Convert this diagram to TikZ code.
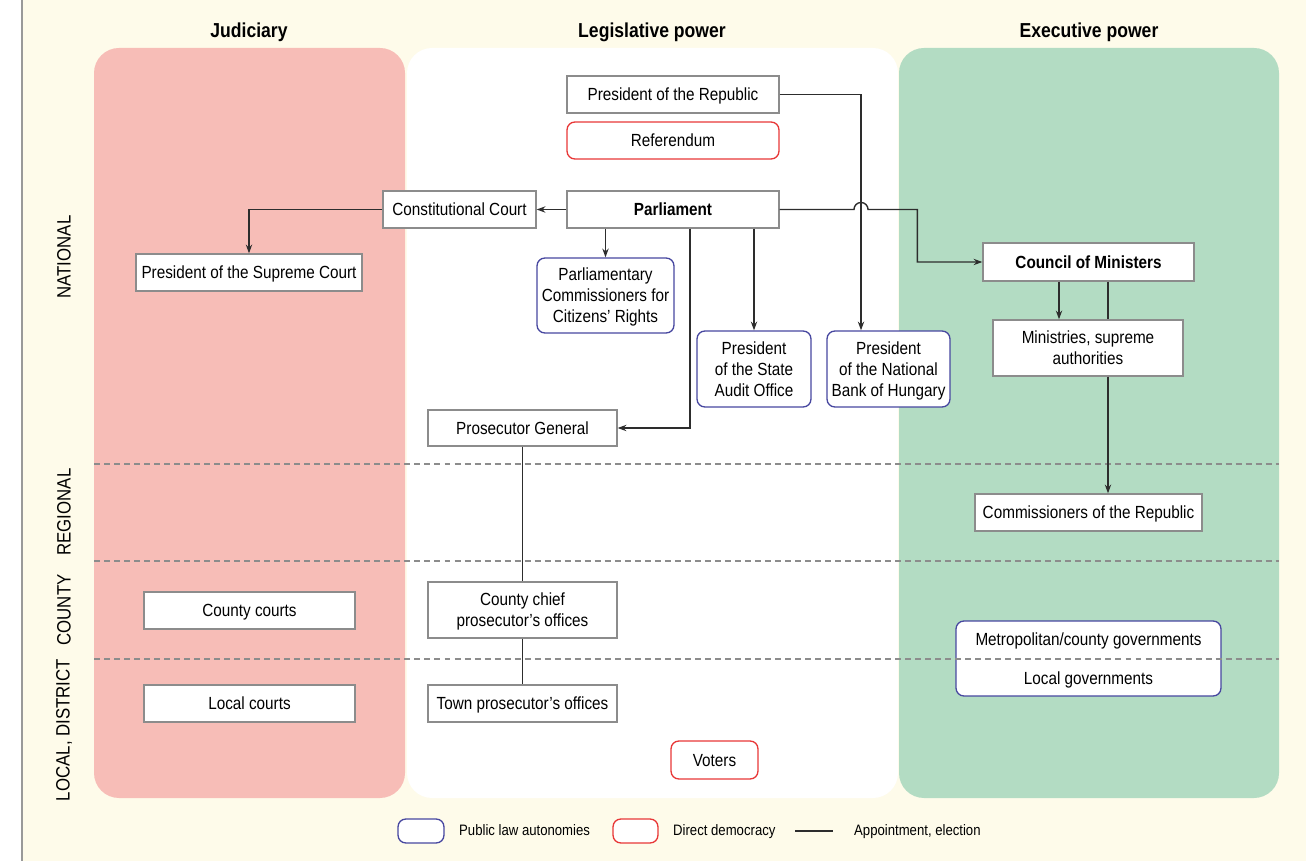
\documentclass[tikz,border=0pt]{standalone}
\usepackage{fontspec}
\setmainfont{Liberation Sans}[FakeStretch=0.87]
\usetikzlibrary{arrows.meta}

\definecolor{cream}{RGB}{254,251,234}
\definecolor{judpink}{RGB}{247,189,183}
\definecolor{exegreen}{RGB}{179,220,195}
\definecolor{boxgray}{RGB}{140,140,140}
\definecolor{autoblue}{RGB}{72,72,160}
\definecolor{demred}{RGB}{232,56,56}
\definecolor{linkgray}{RGB}{45,45,45}

\tikzset{
  office/.style={draw=boxgray, fill=white, line width=0.75pt, align=center, inner sep=1pt,
    minimum height=0.74cm, text depth=0pt, font=\fontsize{10}{12}\selectfont},
  autonomy/.style={office, draw=autoblue, rounded corners=4.5pt},
  direct/.style={office, draw=demred, rounded corners=4.5pt},
  link/.style={draw=linkgray, line width=0.8pt},
  appoint/.style={link, -{Stealth[length=5pt,width=3.6pt]}},
  level/.style={rotate=90, font=\fontsize{11}{13}\selectfont},
  branch/.style={font=\bfseries\fontsize{11.5}{14}\selectfont},
  tier/.style={draw=boxgray, line width=0.7pt, dash pattern=on 3.4pt off 2.3pt},
  keytext/.style={anchor=base west, font=\fontsize{8.6}{10}\selectfont}
}

\begin{document}
\begin{tikzpicture}[x=0.02cm, y=-0.02cm]
\useasboundingbox (0,0) rectangle (1306,861);
% background
\fill[cream] (23,0) rectangle (1306,861);
\draw[gray!80, line width=1pt] (22,0) -- (22,861);
% branches
\fill[judpink, rounded corners=0.5cm] (94,48) rectangle (405,798);
\fill[white, rounded corners=0.5cm] (407,48) rectangle (898,798);
\fill[exegreen, rounded corners=0.5cm] (899,48) rectangle (1279,798);
\node[branch] (judiciary) at (249,32) {Judiciary};
\node[branch] (legislative) at (652,32) {Legislative power};
\node[branch] (executive) at (1089,32) {Executive power};
% levels
\node[level] (national) at (64,257) {NATIONAL};
\node[level] (regional) at (64,512) {REGIONAL};
\node[level] (county) at (64,610) {COUNTY};
\node[level] (local) at (64,730) {LOCAL, DISTRICT};
% legislative
\node[office, minimum width=4.24cm] (presrep) at (673,94.5) {President of the Republic};
\node[direct, minimum width=4.24cm] (referendum) at (673,140.5) {Referendum};
\node[office, minimum width=4.24cm, font=\bfseries\fontsize{10}{12}\selectfont] (parliament) at (673,209.5) {Parliament};
\node[office, minimum width=3.06cm] (constcourt) at (459.5,209.5) {Constitutional Court};
\node[autonomy, minimum width=2.74cm, minimum height=1.5cm] (ombudsman) at (605.5,295.5) {Parliamentary\\Commissioners for\\Citizens' Rights};
\node[autonomy, minimum width=2.28cm, minimum height=1.52cm] (audit) at (754,369) {President\\of the State\\Audit Office};
\node[autonomy, minimum width=2.46cm, minimum height=1.52cm] (natbank) at (888.5,369) {President\\of the National\\Bank of Hungary};
\node[office, minimum width=3.78cm, minimum height=0.72cm] (prosgen) at (522.5,428) {Prosecutor General};
\node[office, minimum width=3.78cm, minimum height=1.12cm] (countypros) at (522.5,610) {County chief\\prosecutor’s offices};
\node[office, minimum width=3.78cm] (townpros) at (522.5,703.5) {Town prosecutor’s offices};
\node[direct, minimum width=1.74cm, minimum height=0.76cm] (voters) at (714.5,760) {Voters};
% judiciary
\node[office, minimum width=4.52cm] (supreme) at (249,272.5) {President of the Supreme Court};
\node[office, minimum width=4.22cm] (countycourts) at (249.5,610.5) {County courts};
\node[office, minimum width=4.22cm] (localcourts) at (249.5,703.5) {Local courts};
% executive
\node[office, minimum width=4.22cm, minimum height=0.76cm, font=\bfseries\fontsize{10}{12}\selectfont] (council) at (1088.5,262) {Council of Ministers};
\node[office, minimum width=3.8cm, minimum height=1.12cm] (ministries) at (1088,348) {Ministries, supreme\\authorities};
\node[office, minimum width=4.54cm] (commrep) at (1088.5,512.5) {Commissioners of the Republic};
\node[autonomy, minimum width=5.3cm, minimum height=1.5cm] (localgov) at (1088.5,658.5) {Metropolitan/county governments\\[10pt]Local governments};
% level borders
\draw[tier] (94,464) -- (1279,464);
\draw[tier] (94,561) -- (1279,561);
\draw[tier] (94,659) -- (1279,659);
% appointments
\draw[appoint] (parliament.west) -- (constcourt.east);
\draw[appoint] (constcourt.west) -| (supreme.north);
\draw[appoint] (parliament.south -| ombudsman.north) -- (ombudsman.north);
\draw[appoint] (parliament.south -| audit.north) -- (audit.north);
\draw[appoint] ([xshift=0.34cm]parliament.south) |- (prosgen.east);
\draw[appoint] (presrep.east) -| ([xshift=-0.55cm]natbank.north);
\draw[appoint] (parliament.east) -- ([xshift=-0.55cm-4pt]natbank.north |- parliament.east)
  arc[start angle=180, end angle=0, radius=4pt]
  -- ([xshift=-1.3cm]council.west |- parliament.east) |- (council.west);
\draw[appoint] ([xshift=-0.59cm]council.south) -- ([xshift=-0.59cm]council.south |- ministries.north);
\draw[link] ([xshift=0.39cm]council.south) -- ([xshift=0.39cm]council.south |- ministries.north);
\draw[appoint] ([xshift=0.39cm]council.south |- ministries.south) -- ([xshift=0.39cm]council.south |- commrep.north);
\draw[link] (prosgen.south) -- (countypros.north);
\draw[link] (countypros.south) -- (townpros.north);
% key
\node[autonomy, minimum width=0.92cm, minimum height=0.48cm] (keyauto) at (421,831) {};
\node[keytext] (keyautotext) at (453,835.5) {Public law autonomies};
\node[direct, minimum width=0.9cm, minimum height=0.48cm] (keydirect) at (635.5,831) {};
\node[keytext] (keydirecttext) at (667,835.5) {Direct democracy};
\coordinate (keylinkstart) at (795,831);
\coordinate (keylinkend) at (833,831);
\draw[link] (keylinkstart) -- (keylinkend);
\node[keytext] (keylinktext) at (848,835.5) {Appointment, election};
\end{tikzpicture}
\end{document}
